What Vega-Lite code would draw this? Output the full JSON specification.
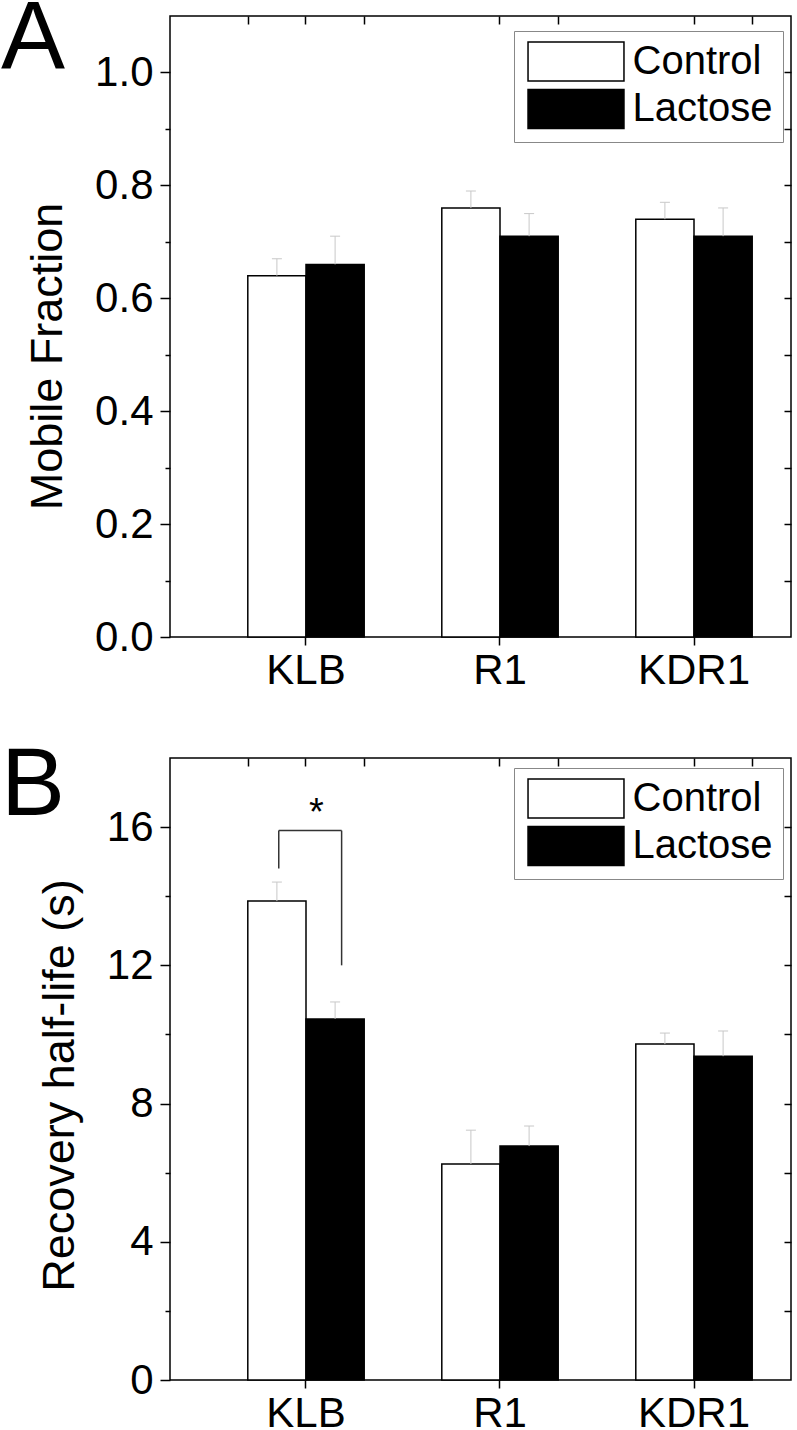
{
  "$schema": "https://vega.github.io/schema/vega-lite/v6.json",
  "padding": {"top": -10, "left": 0, "right": 0, "bottom": 0},
  "spacing": 45,
  "config": {
    "font": "Liberation Sans",
    "view": {"stroke": "black", "strokeWidth": 1.5},
    "axis": {"domain": false, "grid": false, "labelFont": "Liberation Sans", "labelFontSize": 42, "labelColor": "black", "tickColor": "black", "tickWidth": 1.5, "titleFont": "Liberation Sans", "titleFontSize": 45, "titleFontWeight": "normal", "titleColor": "black"},
    "legend": {"orient": "none", "title": null, "labelFont": "Liberation Sans", "labelFontSize": 40, "labelLimit": 400, "labelColor": "black", "symbolStrokeColor": "black", "symbolStrokeWidth": 1.5, "strokeColor": "#888888", "fillColor": "white", "padding": 10, "rowPadding": 2.5, "labelOffset": 36, "symbolOffset": 31.5},
    "title": {"font": "Liberation Sans", "fontSize": 96, "fontWeight": "normal", "color": "black", "anchor": "start", "frame": "group", "baseline": "top", "dx": -169, "dy": 88}
  },
  "datasets": {
    "mobile": [
      {"cell": "KLB", "treatment": "Control", "mean": 0.64, "upper": 0.67},
      {"cell": "KLB", "treatment": "Lactose", "mean": 0.66, "upper": 0.71},
      {"cell": "R1", "treatment": "Control", "mean": 0.76, "upper": 0.79},
      {"cell": "R1", "treatment": "Lactose", "mean": 0.71, "upper": 0.75},
      {"cell": "KDR1", "treatment": "Control", "mean": 0.74, "upper": 0.77},
      {"cell": "KDR1", "treatment": "Lactose", "mean": 0.71, "upper": 0.76}
    ],
    "halflife": [
      {"cell": "KLB", "treatment": "Control", "mean": 13.86, "upper": 14.41},
      {"cell": "KLB", "treatment": "Lactose", "mean": 10.45, "upper": 10.94},
      {"cell": "R1", "treatment": "Control", "mean": 6.25, "upper": 7.23},
      {"cell": "R1", "treatment": "Lactose", "mean": 6.77, "upper": 7.35},
      {"cell": "KDR1", "treatment": "Control", "mean": 9.72, "upper": 10.04},
      {"cell": "KDR1", "treatment": "Lactose", "mean": 9.37, "upper": 10.1}
    ],
    "sig": [
      {"cell": "KLB", "top": 15.9, "leftEnd": 14.8, "rightEnd": 12.0, "starY": 16.06, "label": "*"}
    ]
  },
  "resolve": {"scale": {"fill": "independent"}, "legend": {"fill": "independent"}},
  "vconcat": [
    {
      "width": 621,
      "height": 621,
      "title": {"text": "A", "offset": 15},
      "layer": [
        {
          "data": {"name": "mobile"},
          "mark": {"type": "bar", "stroke": "black", "strokeWidth": 1.5},
          "encoding": {
            "x": {"field": "cell", "type": "nominal", "sort": ["KLB", "R1", "KDR1"], "scale": {"range": [39, 621], "paddingInner": 0.4, "paddingOuter": 0.2}, "axis": {"orient": "bottom", "title": null, "labelAngle": 0, "tickSize": 8, "labelPadding": 5}},
            "xOffset": {"field": "treatment", "type": "nominal", "sort": ["Control", "Lactose"], "scale": {"paddingInner": 0, "paddingOuter": 0}},
            "y": {"field": "mean", "type": "quantitative", "scale": {"domain": [0, 1.1], "nice": false}, "axis": {"orient": "left", "title": "Mobile Fraction", "values": [0, 0.2, 0.4, 0.6, 0.8, 1.0], "format": ".1f", "tickSize": 10, "labelPadding": 7, "titleAngle": -90, "titleX": -109, "titleY": 340, "titleBaseline": "alphabetic", "titleAlign": "center"}},
            "fill": {"field": "treatment", "type": "nominal", "sort": ["Control", "Lactose"], "scale": {"domain": ["Control", "Lactose"], "range": ["white", "black"]}, "legend": {"legendX": 344, "legendY": 15, "symbolType": "M-2.46,-1H2.46V1H-2.46Z", "symbolSize": 1521}}
          }
        },
        {
          "data": {"name": "mobile"},
          "mark": {"type": "rule", "color": "#c8c8c8", "strokeWidth": 1},
          "encoding": {
            "x": {"field": "cell", "type": "nominal", "sort": ["KLB", "R1", "KDR1"], "axis": {"orient": "top", "title": null, "labels": false, "tickBand": "extent", "tickSize": -8}},
            "xOffset": {"field": "treatment", "type": "nominal", "sort": ["Control", "Lactose"]},
            "y": {"field": "mean", "type": "quantitative", "axis": {"orient": "right", "title": null, "labels": false, "values": [0.1, 0.2, 0.3, 0.4, 0.5, 0.6, 0.7, 0.8, 0.9, 1.0], "tickSize": -7}},
            "y2": {"field": "upper"}
          }
        },
        {
          "data": {"name": "mobile"},
          "mark": {"type": "tick", "color": "#c8c8c8", "thickness": 1, "size": 10, "opacity": 1},
          "encoding": {
            "x": {"field": "cell", "type": "nominal", "sort": ["KLB", "R1", "KDR1"], "axis": {"orient": "top", "title": null, "labels": false, "tickSize": -8}},
            "xOffset": {"field": "treatment", "type": "nominal", "sort": ["Control", "Lactose"]},
            "y": {"field": "upper", "type": "quantitative", "axis": {"orient": "left", "title": null, "labels": false, "values": [0.1, 0.3, 0.5, 0.7, 0.9], "tickSize": 5}}
          }
        }
      ],
      "resolve": {"axis": {"x": "independent", "y": "independent"}}
    },
    {
      "width": 621,
      "height": 622,
      "title": {"text": "B", "offset": 10},
      "layer": [
        {
          "data": {"name": "halflife"},
          "mark": {"type": "bar", "stroke": "black", "strokeWidth": 1.5},
          "encoding": {
            "x": {"field": "cell", "type": "nominal", "sort": ["KLB", "R1", "KDR1"], "scale": {"range": [39, 621], "paddingInner": 0.4, "paddingOuter": 0.2}, "axis": {"orient": "bottom", "title": null, "labelAngle": 0, "tickSize": 8, "labelPadding": 5}},
            "xOffset": {"field": "treatment", "type": "nominal", "sort": ["Control", "Lactose"], "scale": {"paddingInner": 0, "paddingOuter": 0}},
            "y": {"field": "mean", "type": "quantitative", "scale": {"domain": [0, 18], "nice": false}, "axis": {"orient": "left", "title": "Recovery half-life (s)", "values": [0, 4, 8, 12, 16], "format": "d", "tickSize": 10, "labelPadding": 7, "titleAngle": -90, "titleX": -97, "titleY": 327, "titleBaseline": "alphabetic", "titleAlign": "center"}},
            "fill": {"field": "treatment", "type": "nominal", "sort": ["Control", "Lactose"], "scale": {"domain": ["Control", "Lactose"], "range": ["white", "black"]}, "legend": {"legendX": 344, "legendY": 10, "symbolType": "M-2.46,-1H2.46V1H-2.46Z", "symbolSize": 1521}}
          }
        },
        {
          "data": {"name": "halflife"},
          "mark": {"type": "rule", "color": "#c8c8c8", "strokeWidth": 1},
          "encoding": {
            "x": {"field": "cell", "type": "nominal", "sort": ["KLB", "R1", "KDR1"], "axis": {"orient": "top", "title": null, "labels": false, "tickBand": "extent", "tickSize": -8}},
            "xOffset": {"field": "treatment", "type": "nominal", "sort": ["Control", "Lactose"]},
            "y": {"field": "mean", "type": "quantitative", "axis": {"orient": "right", "title": null, "labels": false, "values": [2, 4, 6, 8, 10, 12, 14, 16], "tickSize": -7}},
            "y2": {"field": "upper"}
          }
        },
        {
          "data": {"name": "halflife"},
          "mark": {"type": "tick", "color": "#c8c8c8", "thickness": 1, "size": 10, "opacity": 1},
          "encoding": {
            "x": {"field": "cell", "type": "nominal", "sort": ["KLB", "R1", "KDR1"], "axis": {"orient": "top", "title": null, "labels": false, "tickSize": -8}},
            "xOffset": {"field": "treatment", "type": "nominal", "sort": ["Control", "Lactose"]},
            "y": {"field": "upper", "type": "quantitative", "axis": {"orient": "left", "title": null, "labels": false, "values": [2, 6, 10, 14], "tickSize": 5}}
          }
        },
        {
          "data": {"name": "sig"},
          "mark": {"type": "rule", "color": "#333333", "strokeWidth": 1.5},
          "encoding": {
            "x": {"field": "cell", "type": "nominal", "sort": ["KLB", "R1", "KDR1"], "bandPosition": 0.266, "axis": null},
            "y": {"field": "top", "type": "quantitative", "axis": null},
            "y2": {"field": "leftEnd"}
          }
        },
        {
          "data": {"name": "sig"},
          "mark": {"type": "rule", "color": "#333333", "strokeWidth": 1.5},
          "encoding": {
            "x": {"field": "cell", "type": "nominal", "sort": ["KLB", "R1", "KDR1"], "bandPosition": 0.806, "axis": null},
            "y": {"field": "top", "type": "quantitative", "axis": null},
            "y2": {"field": "rightEnd"}
          }
        },
        {
          "data": {"name": "sig"},
          "mark": {"type": "rule", "color": "#333333", "strokeWidth": 1.5},
          "encoding": {
            "x": {"field": "cell", "type": "nominal", "sort": ["KLB", "R1", "KDR1"], "bandPosition": 0.266, "axis": null},
            "x2": {"field": "cell", "bandPosition": 0.806},
            "y": {"field": "top", "type": "quantitative", "axis": null}
          }
        },
        {
          "data": {"name": "sig"},
          "mark": {"type": "text", "fontSize": 38, "font": "Liberation Sans", "color": "black", "baseline": "alphabetic", "align": "center"},
          "encoding": {
            "x": {"field": "cell", "type": "nominal", "sort": ["KLB", "R1", "KDR1"], "bandPosition": 0.59, "axis": null},
            "y": {"field": "starY", "type": "quantitative", "axis": null},
            "text": {"field": "label"}
          }
        }
      ],
      "resolve": {"axis": {"x": "independent", "y": "independent"}}
    }
  ]
}
